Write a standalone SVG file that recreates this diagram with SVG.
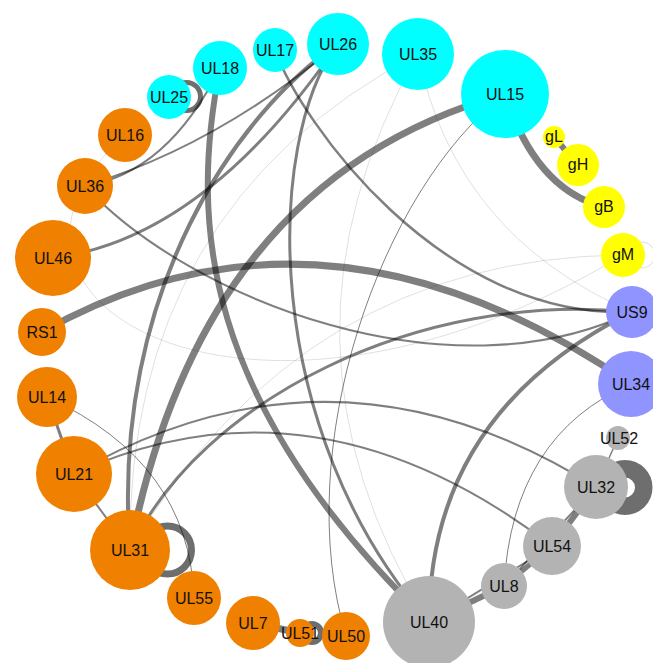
<svg xmlns="http://www.w3.org/2000/svg" width="653" height="663" viewBox="0 0 653 663">
<style>
.e{fill:none;stroke:#000;stroke-opacity:0.5}
.f{fill:none;stroke:#000;stroke-opacity:0.16;stroke-width:0.8}
.t{fill:none;stroke:#000;stroke-opacity:0.5;stroke-width:1}
.loop{fill:none;stroke:#6e6e6e}
.n text{font-family:"Liberation Sans",Arial,sans-serif;font-size:16px;fill:#111;text-anchor:middle;dominant-baseline:central}
.cy{fill:#0ff}.or{fill:#f08000}.ye{fill:#ff0}.bl{fill:#8f94ff}.gr{fill:#b3b3b3}
</style>
<rect width="653" height="663" fill="#fff"/>
<g id="connectors">
  <!-- faint edges -->
  <path class="f" d="M418,54 Q126,208 130,550"/>
  <path class="f" d="M418,54 Q256,342 429,622"/>
  <path class="f" d="M418,54 Q455,235 632,312"/>
  <path class="f" d="M623,255 Q303,258 130,550"/>
  <path class="f" d="M125,135 C-60,300 250,480 623,255"/>
  <circle class="f" cx="642" cy="255" r="13"/>
  <path class="t" d="M505,94 C380,190 290,450 346,636"/>
  <!-- self loops -->
  <circle class="loop" cx="186.5" cy="96.5" r="14" stroke-width="5"/>
  <circle class="loop" cx="167.5" cy="550" r="24" stroke-width="7"/>
  <circle class="loop" cx="625" cy="487.5" r="18.75" stroke-width="17.5"/>
  <circle class="loop" cx="312" cy="633" r="9" stroke-width="6"/>
  <!-- main edges -->
  <path class="e" stroke-width="7" d="M505,94 Q202.5,178 130,550"/>
  <path class="e" stroke-width="7" d="M505,94 Q535.5,189.5 604,207"/>
  <path class="e" stroke-width="6" d="M554,137 L578,165"/>
  <path class="e" stroke-width="7" d="M42,332 Q323.5,174 631,384"/>
  <path class="e" stroke-width="6" d="M220,68 C190,220 200,400 429,622"/>
  <path class="e" stroke-width="3" d="M338,44 C265,140 260,430 429,622"/>
  <path class="e" stroke-width="4" d="M338,44 C240,110 110,290 130,550"/>
  <path class="e" stroke-width="3" d="M53,258 Q204.5,239 338,44"/>
  <path class="e" stroke-width="2" d="M85,186 Q218.5,145 338,44"/>
  <path class="e" stroke-width="2" d="M85,186 Q167.5,173 220,68"/>
  <path class="e" stroke-width="2" d="M85,186 C190,300 450,400 632,312"/>
  <path class="e" stroke-width="2.5" d="M275,50 C300,120 440,320 632,312"/>
  <path class="e" stroke-width="3" d="M130,550 C200,400 420,290 632,312"/>
  <path class="e" stroke-width="4" d="M429,622 Q429.5,413 632,312"/>
  <path class="e" stroke-width="2" d="M74,474 Q335,323.5 596,487"/>
  <path class="e" stroke-width="2" d="M74,474 Q313,364 552,546"/>
  <path class="e" stroke-width="3" d="M47,397 L74,474"/>
  <path class="e" stroke-width="2" d="M74,474 L130,550"/>
  <path class="t" d="M47,397 Q189.5,462.5 194,598"/>
  <path class="t" d="M504,586 Q512.5,435 631,384"/>
  <path class="e" stroke-width="1.5" d="M596,487 L618,438"/>
  <path class="e" stroke-width="6" d="M429,622 L504,586"/>
  <path class="e" stroke-width="2" d="M429,622 L552,546"/>
  <path class="e" stroke-width="5" d="M504,586 L552,546"/>
  <path class="e" stroke-width="6" d="M552,546 L596,487"/>
  <path class="e" stroke-width="2" d="M504,586 L596,487"/>
  <path class="e" stroke-width="7" d="M253,623 L300,633"/>
</g>
<g id="UL18" class="n"><circle class="cy" cx="220" cy="68" r="27"/><text x="220" y="68">UL18</text></g>
<g id="UL25" class="n"><circle class="cy" cx="169" cy="97" r="22"/><text x="169" y="97">UL25</text></g>
<g id="UL17" class="n"><circle class="cy" cx="275" cy="50" r="22"/><text x="275" y="50">UL17</text></g>
<g id="UL26" class="n"><circle class="cy" cx="338" cy="44" r="31"/><text x="338" y="44">UL26</text></g>
<g id="UL35" class="n"><circle class="cy" cx="418" cy="54" r="36"/><text x="418" y="54">UL35</text></g>
<g id="UL15" class="n"><circle class="cy" cx="505" cy="94" r="44"/><text x="505" y="94">UL15</text></g>
<g id="gL" class="n"><circle class="ye" cx="554" cy="137" r="11"/><text x="554" y="136">gL</text></g>
<g id="gH" class="n"><circle class="ye" cx="578" cy="165" r="21"/><text x="578" y="164">gH</text></g>
<g id="gB" class="n"><circle class="ye" cx="604" cy="207" r="21"/><text x="604" y="206">gB</text></g>
<g id="gM" class="n"><circle class="ye" cx="623" cy="255" r="22"/><text x="623" y="254">gM</text></g>
<g id="US9" class="n"><circle class="bl" cx="632" cy="312" r="26"/><text x="632" y="312">US9</text></g>
<g id="UL34" class="n"><circle class="bl" cx="631" cy="384" r="33"/><text x="631" y="384">UL34</text></g>
<g id="UL52" class="n"><circle class="gr" cx="618" cy="438" r="12"/><text x="619" y="438">UL52</text></g>
<g id="UL32" class="n"><circle class="gr" cx="596" cy="487" r="32"/><text x="596" y="487">UL32</text></g>
<g id="UL54" class="n"><circle class="gr" cx="552" cy="546" r="29"/><text x="552" y="546">UL54</text></g>
<g id="UL8" class="n"><circle class="gr" cx="504" cy="586" r="23"/><text x="504" y="586">UL8</text></g>
<g id="UL40" class="n"><circle class="gr" cx="429" cy="622" r="46"/><text x="429" y="622">UL40</text></g>
<g id="UL50" class="n"><circle class="or" cx="346" cy="636" r="24"/><text x="346" y="636">UL50</text></g>
<g id="UL51" class="n"><circle class="or" cx="300" cy="633" r="14"/><text x="300" y="633">UL51</text></g>
<g id="UL7" class="n"><circle class="or" cx="253" cy="623" r="27"/><text x="253" y="623">UL7</text></g>
<g id="UL55" class="n"><circle class="or" cx="194" cy="598" r="27"/><text x="194" y="598">UL55</text></g>
<g id="UL31" class="n"><circle class="or" cx="130" cy="550" r="40"/><text x="130" y="550">UL31</text></g>
<g id="UL21" class="n"><circle class="or" cx="74" cy="474" r="38"/><text x="74" y="474">UL21</text></g>
<g id="UL14" class="n"><circle class="or" cx="47" cy="397" r="30"/><text x="47" y="397">UL14</text></g>
<g id="RS1" class="n"><circle class="or" cx="42" cy="332" r="24"/><text x="42" y="332">RS1</text></g>
<g id="UL46" class="n"><circle class="or" cx="53" cy="258" r="38"/><text x="53" y="258">UL46</text></g>
<g id="UL36" class="n"><circle class="or" cx="85" cy="186" r="28"/><text x="85" y="186">UL36</text></g>
<g id="UL16" class="n"><circle class="or" cx="125" cy="135" r="27"/><text x="125" y="135">UL16</text></g>
</svg>
